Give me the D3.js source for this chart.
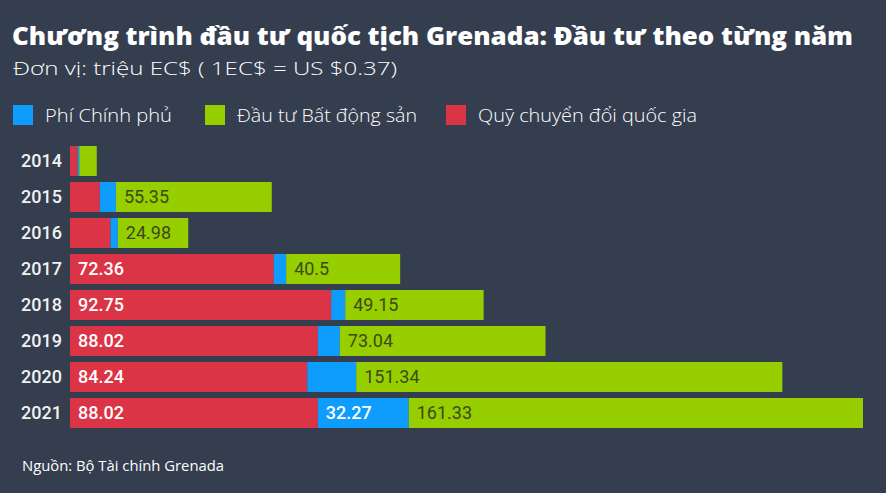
<!DOCTYPE html>
<html>
<head>
<meta charset="utf-8">
<script src="https://cdn.jsdelivr.net/npm/d3@7"></script>
<style>
  html, body { margin: 0; padding: 0; background: #343e4f; }
  svg { display: block; }
</style>
</head>
<body>
<svg id="chart" width="886" height="493"></svg>
<script>
// data (triệu EC$)
var years = ["2014", "2015", "2016", "2017", "2018", "2019", "2020", "2021"];
var quyValues = [2.7, 10.6, 14.4, 72.36, 92.75, 88.02, 84.24, 88.02];
var phiValues = [0.6, 5.7, 2.6, 4.4, 5.0, 7.8, 17.4, 32.27];
var bdsValues = [6.2, 55.35, 24.98, 40.5, 49.15, 73.04, 151.34, 161.33];
// which values get printed on the bar
var quyLabels = [null, null, null, "72.36", "92.75", "88.02", "84.24", "88.02"];
var phiLabels = [null, null, null, null, null, null, null, "32.27"];
var bdsLabels = [null, "55.35", "24.98", "40.5", "49.15", "73.04", "151.34", "161.33"];
var legendNames = ["Phí Chính phủ", "Đầu tư Bất động sản", "Quỹ chuyển đổi quốc gia"];

var colors = { quy: "#dc3447", phi: "#0e9cfd", bds: "#97ce00" };

var svg = d3.select("#chart");
svg.append("rect").attr("width", 886).attr("height", 493).attr("fill", "#343e4f");

var data = years.map((y, i) => ({ year: y, quy: quyValues[i], phi: phiValues[i], bds: bdsValues[i], i: i }));
var keys = ["quy", "phi", "bds"];
var labels = { quy: quyLabels, phi: phiLabels, bds: bdsLabels };
var series = d3.stack().keys(keys)(data);

var x = d3.scaleLinear()
  .domain([0, d3.max(data, d => d.quy + d.phi + d.bds)])
  .range([70, 863]);
var y = d3.scaleBand()
  .domain(years)
  .range([143, 431])
  .paddingInner(6 / 36)
  .paddingOuter(3 / 36);

// title
svg.append("text")
  .attr("x", 12).attr("y", 45)
  .attr("textLength", 841).attr("lengthAdjust", "spacingAndGlyphs")
  .style("font-family", "'Open Sans', sans-serif").style("font-weight", 800)
  .style("font-size", "24px").attr("fill", "#ffffff")
  .text("Chương trình đầu tư quốc tịch Grenada: Đầu tư theo từng năm");

svg.append("text")
  .attr("x", 13).attr("y", 75)
  .attr("textLength", 384).attr("lengthAdjust", "spacingAndGlyphs")
  .style("font-family", "'Open Sans', sans-serif").style("font-weight", 300)
  .style("font-size", "19px").attr("fill", "#ffffff")
  .text("Đơn vị: triệu EC$ ( 1EC$ = US $0.37)");

// legend
var legendItems = [
  { name: legendNames[0], color: colors.phi, x: 13, w: 127 },
  { name: legendNames[1], color: colors.bds, x: 205, w: 180 },
  { name: legendNames[2], color: colors.quy, x: 446, w: 219 }
];
var lg = svg.append("g").selectAll("g").data(legendItems).enter().append("g")
  .attr("transform", d => "translate(" + d.x + ",105)");
lg.append("rect").attr("width", 20).attr("height", 20).attr("fill", d => d.color);
lg.append("text")
  .attr("x", 32).attr("y", 17)
  .attr("textLength", d => d.w).attr("lengthAdjust", "spacingAndGlyphs")
  .style("font-family", "'Open Sans', sans-serif").style("font-weight", 300)
  .style("font-size", "18px").attr("fill", "#ffffff")
  .text(d => d.name);

// bars
var g = svg.append("g");
series.forEach(s => {
  g.selectAll(".bar-" + s.key)
    .data(s)
    .enter()
    .append("rect")
    .attr("class", "bar-" + s.key)
    .attr("x", d => x(d[0]))
    .attr("width", d => x(d[1]) - x(d[0]))
    .attr("y", d => y(d.data.year))
    .attr("height", y.bandwidth())
    .attr("fill", colors[s.key]);

  g.selectAll(".lbl-" + s.key)
    .data(s.filter(d => labels[s.key][d.data.i] !== null))
    .enter()
    .append("text")
    .attr("x", d => x(d[0]) + 8)
    .attr("y", d => y(d.data.year) + y.bandwidth() / 2)
    .attr("dy", "0.36em")
    .style("font-family", "Roboto, sans-serif")
    .style("font-size", "18px")
    .style("font-weight", s.key === "bds" ? 400 : 500)
    .attr("fill", s.key === "bds" ? "#3c4a16" : "#ffffff")
    .text(d => labels[s.key][d.data.i]);
});

// year axis
var yAxis = svg.append("g")
  .attr("transform", "translate(62,0)")
  .call(d3.axisLeft(y).tickSize(0).tickPadding(0));
yAxis.select(".domain").remove();
yAxis.selectAll("text")
  .style("font-family", "Roboto, sans-serif")
  .style("font-size", "18px")
  .style("font-weight", 500)
  .attr("fill", "#f2f2f2");

// source
svg.append("text")
  .attr("x", 22).attr("y", 471)
  .attr("textLength", 202).attr("lengthAdjust", "spacingAndGlyphs")
  .style("font-family", "'Open Sans', sans-serif").style("font-weight", 400)
  .style("font-size", "15px").attr("fill", "#ffffff")
  .text("Nguồn: Bộ Tài chính Grenada");
</script>
</body>
</html>
